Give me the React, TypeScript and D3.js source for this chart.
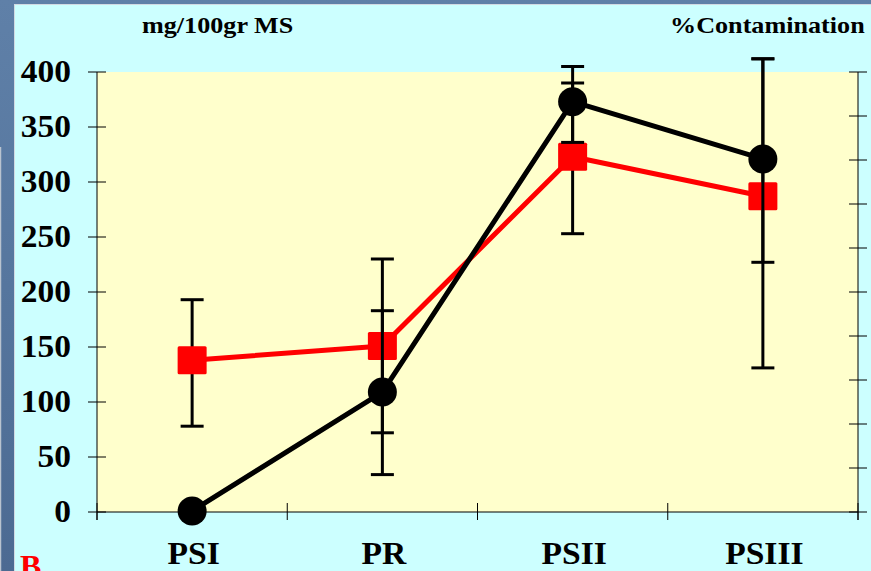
import React from "react";
import * as d3 from "d3";

// Categories along the x axis
const categories = ["PSI", "PR", "PSII", "PSIII"];

// Black series (circles), mg/100gr MS, with error bar bounds
const blackValues = [1, 109, 373, 321];
const blackLow: (number | null)[] = [null, 34, 336, 227];
const blackHigh: (number | null)[] = [null, 183, 405, 412];

// Red series (squares), with error bar bounds
const redValues = [138, 151, 323, 287];
const redLow: (number | null)[] = [78, 72, 253, 131];
const redHigh: (number | null)[] = [193, 230, 390, 412];

// Axis ticks
const leftTicks = [0, 50, 100, 150, 200, 250, 300, 350, 400];
const rightTicks = [0, 10, 20, 30, 40, 50, 60, 70, 80, 90, 100];

const W = 871;
const H = 571;
const plot = { left: 97, right: 858, top: 72, bottom: 512 };
const serif = "'Liberation Serif', 'Times New Roman', serif";

type Series = {
  values: number[];
  low: (number | null)[];
  high: (number | null)[];
};

export default function App() {
  const x = d3.scaleBand<string>().domain(categories).range([plot.left, plot.right]);
  const cx = (c: string) => (x(c) as number) + x.bandwidth() / 2;
  const y = d3.scaleLinear().domain([0, 400]).range([plot.bottom, plot.top]);
  const yRight = d3.scaleLinear().domain([0, 100]).range([plot.bottom, plot.top]);

  const line = d3
    .line<number>()
    .x((_, i) => cx(categories[i]))
    .y((d) => y(d));

  const errorBars = (s: Series, key: string) =>
    categories.map((c, i) => {
      const lo = s.low[i];
      const hi = s.high[i];
      if (lo == null || hi == null) return null;
      const px = cx(c);
      const capW = 11.5;
      return (
        <g key={`${key}-${c}`} stroke="#000" strokeWidth={3}>
          <line x1={px} x2={px} y1={y(lo)} y2={y(hi)} />
          <line x1={px - capW} x2={px + capW} y1={y(lo)} y2={y(lo)} />
          <line x1={px - capW} x2={px + capW} y1={y(hi)} y2={y(hi)} />
        </g>
      );
    });

  const boundaries = d3.range(categories.length + 1).map((k) => plot.left + k * x.step());

  return (
    <svg
      width={W}
      height={H}
      style={{ position: "absolute", left: 0, top: 0 }}
      fontFamily={serif}
    >
      <defs>
        <linearGradient id="bgGrad" x1="0" y1="0" x2="0" y2="1">
          <stop offset="0" stopColor="#5f80a8" />
          <stop offset="0.5" stopColor="#56769e" />
          <stop offset="1" stopColor="#4c6a92" />
        </linearGradient>
      </defs>

      {/* slide background */}
      <rect x={0} y={0} width={W} height={H} fill="url(#bgGrad)" />
      <line x1={0.5} x2={0.5} y1={147} y2={H} stroke="#b9c3cf" strokeWidth={1.5} />

      {/* chart panel */}
      <rect x={14.5} y={4.5} width={W} height={H} fill="#ccffff" stroke="#d2dae2" strokeWidth={1} />

      {/* plot area */}
      <rect
        x={plot.left}
        y={plot.top}
        width={plot.right - plot.left}
        height={plot.bottom - plot.top}
        fill="#ffffcc"
      />

      {/* left axis */}
      <g stroke="#000" strokeWidth={1}>
        <line x1={plot.left} x2={plot.left} y1={plot.top} y2={plot.bottom + 8} />
        {leftTicks.map((t) => (
          <line key={`lt${t}`} x1={plot.left - 9} x2={plot.left + 9} y1={y(t)} y2={y(t)} />
        ))}
      </g>
      {leftTicks.map((t) => (
        <text
          key={`ll${t}`}
          transform={`translate(71,${y(t) + 10}) scale(1.08,1)`}
          textAnchor="end"
          fontSize={31}
          fontWeight="bold"
          fill="#000"
        >
          {t}
        </text>
      ))}

      {/* right axis */}
      <g stroke="#000" strokeWidth={1}>
        <line x1={plot.right} x2={plot.right} y1={plot.top} y2={plot.bottom + 8} />
        {rightTicks.map((t) => (
          <line
            key={`rt${t}`}
            x1={plot.right - 9}
            x2={plot.right + 9}
            y1={yRight(t)}
            y2={yRight(t)}
          />
        ))}
      </g>

      {/* bottom axis */}
      <g stroke="#000" strokeWidth={1}>
        <line x1={plot.left} x2={plot.right} y1={plot.bottom} y2={plot.bottom} />
        {boundaries.map((b, k) => (
          <line key={`bt${k}`} x1={b} x2={b} y1={plot.bottom - 9} y2={plot.bottom + 8} />
        ))}
      </g>
      {categories.map((c) => (
        <text
          key={`cl${c}`}
          transform={`translate(${cx(c) + 1.5},564) scale(1.05,1)`}
          textAnchor="middle"
          fontSize={32}
          fontWeight="bold"
          fill="#000"
        >
          {c}
        </text>
      ))}

      {/* red series */}
      {errorBars({ values: redValues, low: redLow, high: redHigh }, "r")}
      <path
        d={line(redValues) || ""}
        fill="none"
        stroke="#ff0000"
        strokeWidth={5}
        strokeLinejoin="round"
      />
      {redValues.map((v, i) => (
        <rect
          key={`rs${i}`}
          x={cx(categories[i]) - 14.5}
          y={y(v) - 14}
          width={29}
          height={28}
          rx={1.5}
          fill="#ff0000"
        />
      ))}

      {/* black series */}
      {errorBars({ values: blackValues, low: blackLow, high: blackHigh }, "b")}
      <path
        d={line(blackValues) || ""}
        fill="none"
        stroke="#000"
        strokeWidth={5}
        strokeLinejoin="round"
      />
      {blackValues.map((v, i) => (
        <circle key={`bc${i}`} cx={cx(categories[i])} cy={y(v)} r={14.5} fill="#000" />
      ))}

      {/* axis titles */}
      <text
        transform="translate(142,33) scale(1.09,1)"
        fontSize={24}
        fontWeight="bold"
        fill="#000"
      >
        mg/100gr MS
      </text>
      <text
        transform="translate(670,33) scale(1.09,1)"
        fontSize={24}
        fontWeight="bold"
        fill="#000"
      >
        %Contamination
      </text>

      {/* panel letter */}
      <text x={20} y={577} fontSize={32} fontWeight="bold" fill="#ff0000">
        B
      </text>
    </svg>
  );
}
